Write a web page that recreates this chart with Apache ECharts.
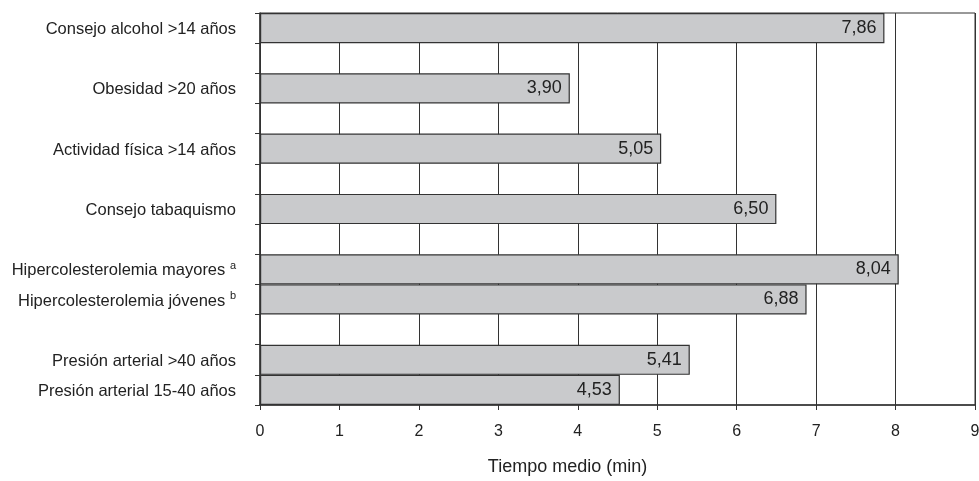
<!DOCTYPE html>
<html>
<head>
<meta charset="utf-8">
<script src="https://cdn.jsdelivr.net/npm/echarts@6/dist/echarts.min.js"></script>
<style>html,body{margin:0;padding:0;background:#fff;}#c{width:979px;height:481px;}</style>
</head>
<body>
<div id="c"></div>
<script>
// Categories top-to-bottom; empty strings are blank spacer rows
const categories = [
  'Consejo alcohol >14 años', '',
  'Obesidad >20 años', '',
  'Actividad física >14 años', '',
  'Consejo tabaquismo', '',
  'Hipercolesterolemia mayores', 'Hipercolesterolemia jóvenes', '',
  'Presión arterial >40 años', 'Presión arterial 15-40 años'
];
const superscripts = ['', '', '', '', '', '', '', '', 'a', 'b', '', '', ''];
const values = [7.86, null, 3.90, null, 5.05, null, 6.50, null, 8.04, 6.88, null, 5.41, 4.53];
const xTicks = [0, 1, 2, 3, 4, 5, 6, 7, 8, 9];
const xTitle = 'Tiempo medio (min)';

const chart = echarts.init(document.getElementById('c'));
const font = 'Liberation Sans, Arial, sans-serif';
chart.setOption({
  animation: false,
  backgroundColor: '#fff',
  grid: { left: 260, right: 4, top: 13, bottom: 76, show: true, borderColor: '#333', borderWidth: 1, backgroundColor: 'transparent', outerBoundsMode: 'none', containLabel: false },
  xAxis: {
    type: 'value', min: xTicks[0], max: xTicks[xTicks.length - 1], interval: 1,
    name: xTitle, nameLocation: 'middle', nameGap: 53,
    nameTextStyle: { fontFamily: font, fontSize: 18, color: '#222', padding: [0, 100, 0, 0] },
    axisLine: { show: true, lineStyle: { color: '#333', width: 1.5 } },
    axisTick: { show: true, length: 5, lineStyle: { color: '#333' } },
    axisLabel: { fontFamily: font, fontSize: 16, color: '#222', margin: 19, showMaxLabel: true, showMinLabel: true },
    splitLine: { show: true, lineStyle: { color: '#333', width: 1 } }
  },
  yAxis: {
    type: 'category', data: categories, inverse: true,
    axisLine: { show: true, lineStyle: { color: '#333', width: 1.5 } },
    axisTick: { show: true, length: 5, alignWithLabel: false, interval: 0, lineStyle: { color: '#333' } },
    axisLabel: {
      interval: 0, margin: 24, fontFamily: font, fontSize: 16.5, color: '#222', padding: [3, 0, 0, 0],
      formatter: (v, i) => superscripts[i] ? v + ' {sup|' + superscripts[i] + '}' : v,
      rich: { sup: { fontFamily: font, fontSize: 11, color: '#222', verticalAlign: 'top', padding: [0, 0, 10, 0] } }
    },
    splitLine: { show: false }
  },
  series: [{
    type: 'bar', data: values, barCategoryGap: 0,
    itemStyle: { color: '#c9cacc', borderColor: '#333', borderWidth: 1.2 },
    label: {
      show: true, position: 'insideRight', distance: 8,
      fontFamily: font, fontSize: 18, color: '#222',
      formatter: p => p.value == null ? '' : p.value.toFixed(2).replace('.', ',')
    }
  }]
});
</script>
</body>
</html>
